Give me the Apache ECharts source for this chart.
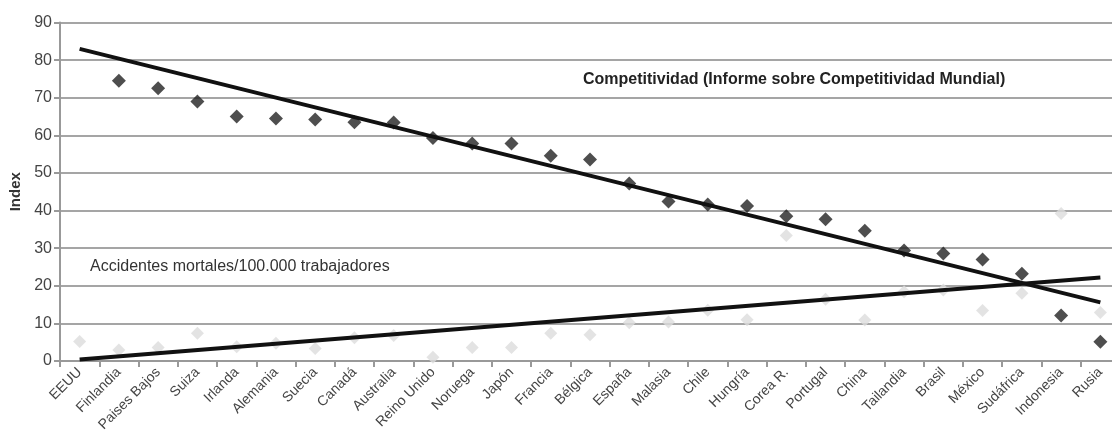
<!DOCTYPE html>
<html>
<head>
<meta charset="utf-8">
<script src="https://cdn.jsdelivr.net/npm/echarts@6/dist/echarts.min.js"></script>
<style>
html,body{margin:0;padding:0;background:#fff;}
#chart{width:1112px;height:441px;}
</style>
</head>
<body>
<div id="chart"></div>
<script>
var paises = ['EEUU','Finlandia','Paises Bajos','Suiza','Irlanda','Alemania','Suecia','Canadá','Australia','Reino Unido','Noruega','Japón','Francia','Bélgica','España','Malasia','Chile','Hungría','Corea R.','Portugal','China','Tailandia','Brasil','México','Sudáfrica','Indonesia','Rusia'];

// indice de competitividad (rombos oscuros)
var competitividad = [null,74.5,72.5,69,65,64.5,64.2,63.5,63.4,59.3,57.8,57.8,54.6,53.6,47.2,42.4,41.6,41.2,38.5,37.7,34.6,29.4,28.6,27,23.2,12.1,5.1];

// accidentes mortales / 100.000 trabajadores (rombos claros)
var accidentes = [5.2,2.9,3.6,7.4,3.8,4.7,3.3,6.2,6.8,1.0,3.6,3.6,7.4,7.0,10.2,10.4,13.5,11,33.4,16.4,10.9,18.4,18.9,13.4,18,39.2,12.9];

// lineas de tendencia: valor en el primer y ultimo pais
var tendenciaComp = [83, 15.6];
var tendenciaAcc = [0.4, 22.2];

var yTicks = [0,10,20,30,40,50,60,70,80,90];

function trend(ends) {
	var d = paises.map(function(){ return null; });
	d[0] = ends[0];
	d[d.length-1] = ends[1];
	return d;
}

var font = "'Liberation Sans Narrow','Liberation Sans',Arial,sans-serif";

var myChart = echarts.init(document.getElementById('chart'));
var chartOption = {
	backgroundColor: '#fff',
	animation: false,
	grid: {left: 60, width: 1060, top: 22.5, height: 338.5, outerBoundsMode: 'none', containLabel: false},
	xAxis: {
		type: 'category',
		data: paises,
		boundaryGap: true,
		axisLine: {lineStyle: {color: '#999', width: 2}},
		axisTick: {show: true, length: 6, lineStyle: {color: '#999', width: 2}},
		axisLabel: {rotate: 45, interval: 0, color: '#444', fontSize: 14, fontFamily: font, margin: 9},
		splitLine: {show: false}
	},
	yAxis: {
		type: 'value',
		min: yTicks[0],
		max: yTicks[yTicks.length-1],
		interval: 10,
		name: 'Index',
		nameLocation: 'middle',
		nameGap: 32,
		nameTextStyle: {color: '#333', fontSize: 15, fontWeight: 'bold', fontFamily: font},
		axisLine: {show: true, lineStyle: {color: '#999', width: 2}},
		axisTick: {show: true, length: 6, lineStyle: {color: '#999', width: 2}},
		axisLabel: {color: '#444', fontSize: 16, fontFamily: font, margin: 8},
		splitLine: {lineStyle: {color: '#a5a5a5', width: 2}}
	},
	graphic: [
		{type: 'text', left: 583, top: 72, style: {text: 'Competitividad (Informe sobre Competitividad Mundial)', fill: '#222', font: 'bold 16px ' + font}},
		{type: 'text', left: 90, top: 259, style: {text: 'Accidentes mortales/100.000 trabajadores', fill: '#333', font: '16px ' + font}}
	],
	series: [
		{
			name: 'Accidentes',
			type: 'scatter',
			data: accidentes,
			symbol: 'diamond',
			symbolSize: 13,
			itemStyle: {color: '#dcdcdc'},
			z: 2
		},
		{
			name: 'Competitividad',
			type: 'scatter',
			data: competitividad,
			symbol: 'diamond',
			symbolSize: 14,
			itemStyle: {color: '#222'},
			z: 3
		},
		{
			type: 'line',
			data: trend(tendenciaAcc),
			connectNulls: true,
			showSymbol: false,
			lineStyle: {color: '#111', width: 4},
			z: 4
		},
		{
			type: 'line',
			data: trend(tendenciaComp),
			connectNulls: true,
			showSymbol: false,
			lineStyle: {color: '#111', width: 4},
			z: 4
		}
	]
};
myChart.setOption(chartOption);
</script>
</body>
</html>
